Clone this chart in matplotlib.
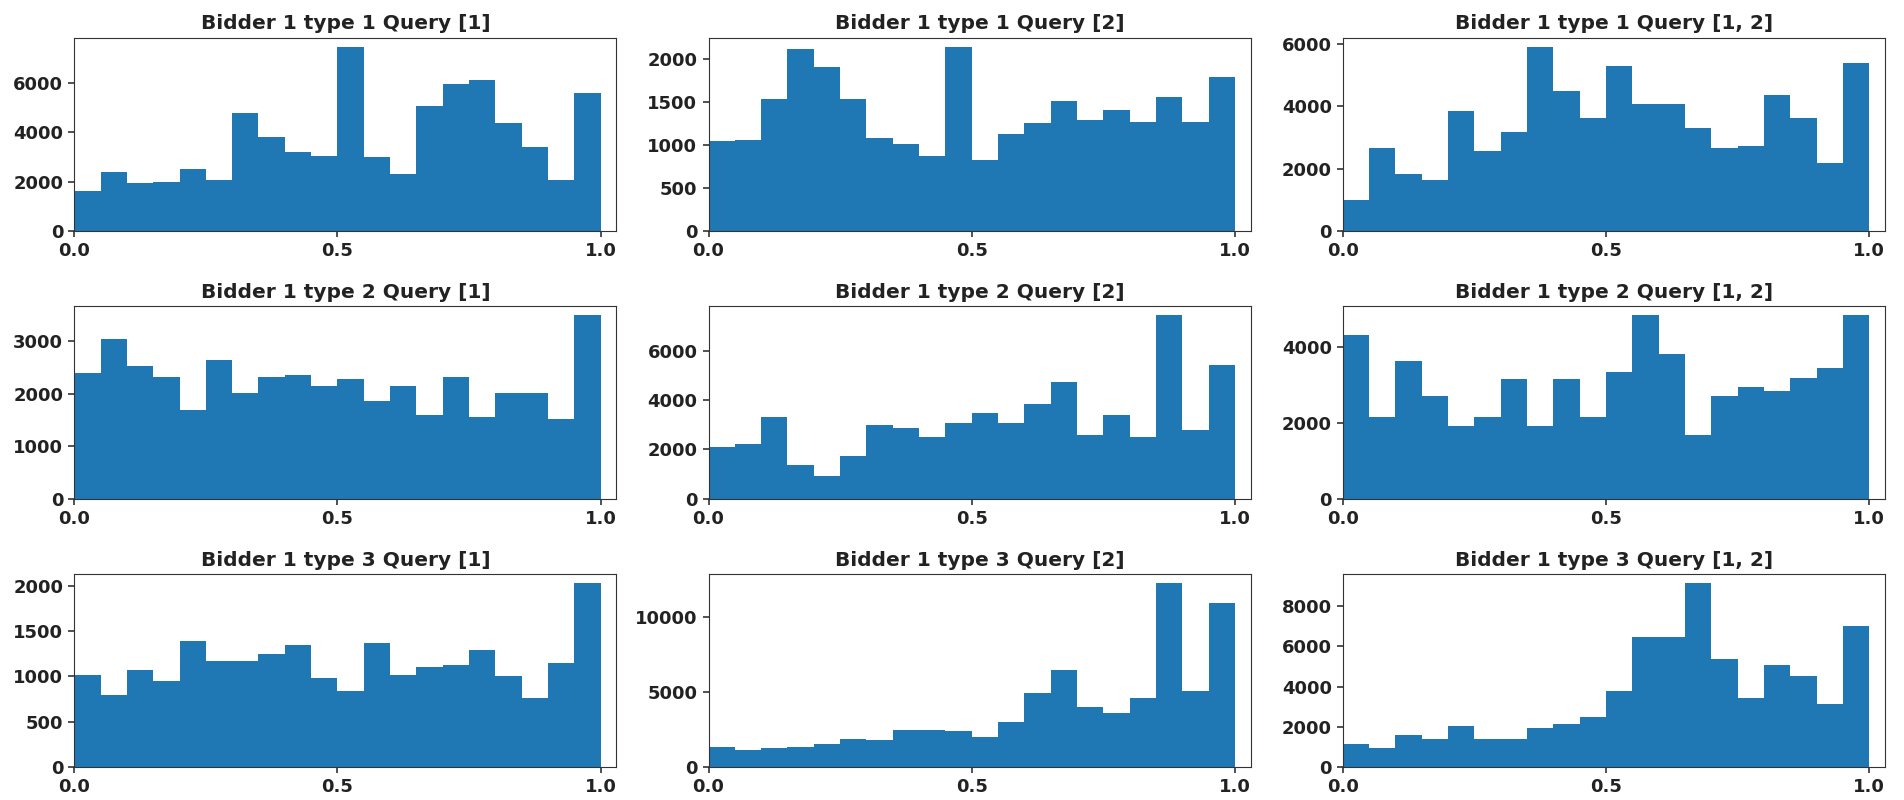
import numpy as np
import matplotlib
matplotlib.use("Agg")
import matplotlib.pyplot as plt

# bin edges shared by every panel (20 bins on [0, 1])
edges = np.linspace(0, 1, 21)

# counts per bin
t1_q1 = [1610, 2370, 1930, 2000, 2510, 2070, 4780, 3810, 3190, 3060,
         7490, 2980, 2300, 5080, 5980, 6130, 4400, 3410, 2070, 5610]
t1_q2 = [1040, 1060, 1530, 2110, 1900, 1530, 1080, 1010, 870, 2140,
         820, 1120, 1250, 1510, 1290, 1400, 1270, 1550, 1270, 1790]
t1_q12 = [980, 2650, 1820, 1640, 3850, 2580, 3190, 5920, 4510, 3620,
          5290, 4080, 4080, 3320, 2650, 2720, 4380, 3620, 2180, 5400]

t2_q1 = [2400, 3040, 2540, 2330, 1700, 2650, 2020, 2330, 2360, 2150,
         2290, 1870, 2150, 1600, 2330, 1560, 2010, 2010, 1530, 3500]
t2_q2 = [2120, 2210, 3330, 1370, 910, 1740, 3010, 2870, 2490, 3080,
         3480, 3080, 3830, 4750, 2570, 3390, 2490, 7440, 2780, 5420]
t2_q12 = [4300, 2160, 3630, 2700, 1920, 2160, 3140, 1920, 3140, 2160,
          3330, 4830, 3820, 1680, 2700, 2940, 2840, 3180, 3430, 4830]

t3_q1 = [1020, 800, 1070, 945, 1390, 1165, 1165, 1250, 1350, 985,
         840, 1370, 1020, 1105, 1130, 1290, 1000, 760, 1150, 2025]
t3_q2 = [1360, 1140, 1250, 1360, 1510, 1890, 1780, 2500, 2500, 2390,
         2020, 2980, 4960, 6430, 3970, 3600, 4580, 12210, 5070, 10880]
t3_q12 = [1130, 930, 1590, 1410, 2050, 1410, 1410, 1950, 2150, 2510,
          3780, 6480, 6480, 9130, 5360, 3420, 5080, 4540, 3150, 7020]

types = [1, 2, 3]
queries = ["[1]", "[2]", "[1, 2]"]
counts = [[t1_q1, t1_q2, t1_q12],
          [t2_q1, t2_q2, t2_q12],
          [t3_q1, t3_q2, t3_q12]]

plt.rcParams['font.weight'] = 'bold'

fig, axes = plt.subplots(3, 3, figsize=(19.04, 8), dpi=100)
fig.subplots_adjust(left=0.039, right=0.99, bottom=0.041, top=0.953,
                    wspace=0.17, hspace=0.39)

centers = (edges[:-1] + edges[1:]) / 2
for i, t in enumerate(types):
    for j, q in enumerate(queries):
        ax = axes[i, j]
        ax.hist(centers, bins=edges, weights=counts[i][j], color='#1f77b4')
        ax.set_xlim(0, 1.03)
        ax.set_xticks([0, 0.5, 1.0])
        ax.set_title("Bidder 1 type %d Query %s" % (t, q),
                     fontsize=14.5, fontweight='bold', color='#222222', pad=6)
        ax.tick_params(labelsize=13, colors='#222222', length=4.5, width=1.1)
        for s in ax.spines.values():
            s.set_color('#333333')

fig.savefig("out.png")
